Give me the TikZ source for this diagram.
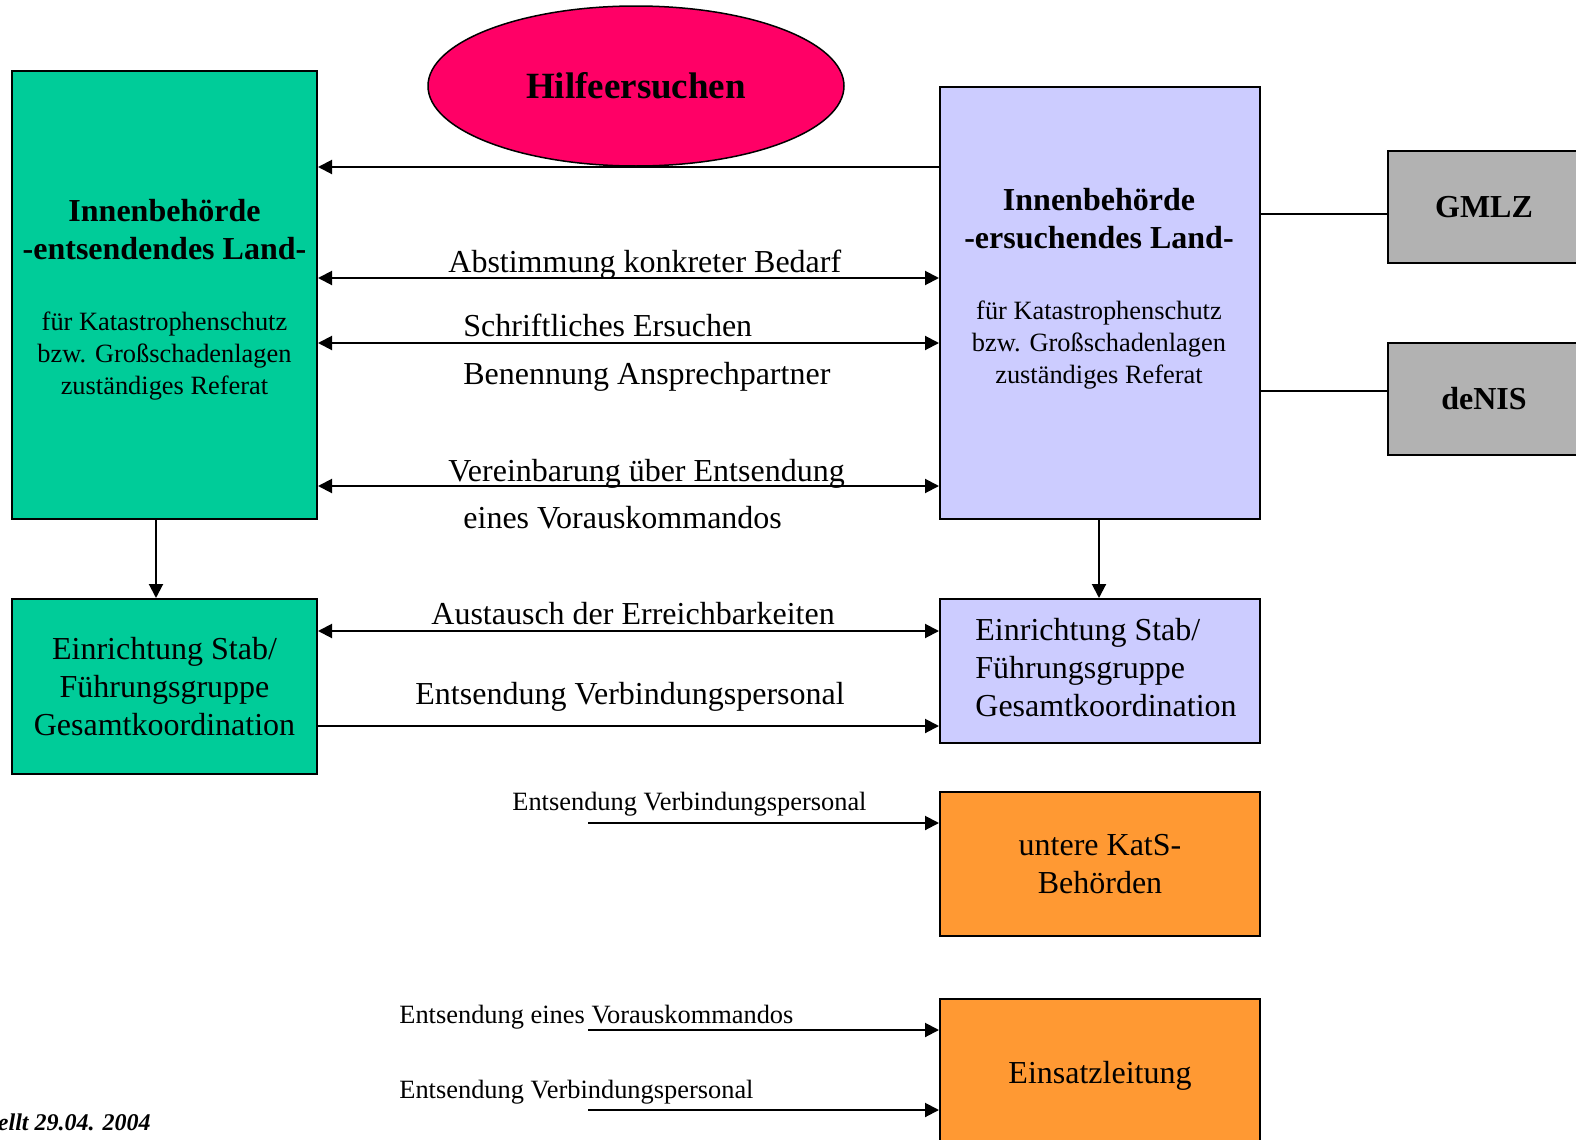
\documentclass[tikz,border=0pt]{standalone}
\usepackage{fontspec}
\setmainfont{Liberation Serif}
\usetikzlibrary{arrows.meta,shapes.geometric}
\definecolor{cgreen}{HTML}{00CC99}
\definecolor{cpink}{HTML}{FF0066}
\definecolor{clav}{HTML}{CCCCFF}
\definecolor{cgray}{HTML}{B2B2B2}
\definecolor{corange}{HTML}{FF9933}
\begin{document}
\begin{tikzpicture}[x=0.5pt,y=-0.5pt,
  box/.style={draw, line width=1pt, rectangle, inner sep=0pt, align=center, font=\fontsize{16}{19}\selectfont},
  hdr/.style={inner sep=0pt, align=center, font=\fontsize{16}{19}\selectfont\bfseries},
  body/.style={inner sep=0pt, align=center, font=\fontsize{13.2}{16}\selectfont},
  lbl/.style={anchor=base west, inner sep=0pt, font=\fontsize{16}{19}\selectfont},
  slbl/.style={anchor=base west, inner sep=0pt, font=\fontsize{13.2}{16}\selectfont},
  arr/.style={line width=1pt, -{Triangle[length=7pt,width=7pt]}},
  darr/.style={line width=1pt, {Triangle[length=7pt,width=7pt]}-{Triangle[length=7pt,width=7pt]}},
  conn/.style={line width=1pt}]
\useasboundingbox (0,0) rectangle (1576,1140);
\clip (0,0) rectangle (1576,1140);

% top boxes
\node[box, fill=cgreen, minimum width=152.5pt, minimum height=224pt] (entA) at (164.5,295) {};
\node[hdr] (entAh) at (164.5,230) {Innenbehörde\\-entsendendes Land-};
\node[body] (entAb) at (164.5,356) {für Katastrophenschutz\\bzw. Großschadenlagen\\zuständiges Referat};

\node[box, fill=clav, minimum width=160pt, minimum height=216pt] (ersB) at (1100,303) {};
\node[hdr] (ersBh) at (1099,219) {Innenbehörde\\-ersuchendes Land-};
\node[body] (ersBb) at (1099,345) {für Katastrophenschutz\\bzw. Großschadenlagen\\zuständiges Referat};

\node[box, fill=cgray, minimum width=96pt, minimum height=56pt, font=\fontsize{16}{19}\selectfont\bfseries] (gmlz) at (1484,207) {GMLZ};
\node[box, fill=cgray, minimum width=96pt, minimum height=56pt, font=\fontsize{16}{19}\selectfont\bfseries] (denis) at (1484,399) {deNIS};

% lower boxes
\node[box, fill=cgreen, minimum width=152.5pt, minimum height=87.5pt] (entAst) at (164.5,686.5) {Einrichtung Stab/\\Führungsgruppe\\Gesamtkoordination};
\node[box, fill=clav, minimum width=160pt, minimum height=72pt] (ersBst) at (1100,671) {};
\node[inner sep=0pt, anchor=west, align=left, font=\fontsize{16}{19}\selectfont] (ersBsttxt) at (975,668) {Einrichtung Stab/\\Führungsgruppe\\Gesamtkoordination};
\node[box, fill=corange, minimum width=160pt, minimum height=72pt] (kats) at (1100,864) {untere KatS-\\Behörden};
\node[box, fill=corange, minimum width=160pt, minimum height=77pt] (einsatz) at (1100,1076) {Einsatzleitung};

% connectors
\draw[arr] (ersB.west |- 0,167) -- (entA.east |- 0,167);
\node[draw, ellipse, fill=cpink, line width=0.75pt, minimum width=208pt, minimum height=80pt, inner sep=0pt, font=\fontsize{18.5}{22}\selectfont\bfseries] (hilfe) at (636,86) {\raisebox{-1pt}{Hilfeersuchen}};
\draw[darr] (entA.east |- 0,278) -- (ersB.west |- 0,278);
\draw[darr] (entA.east |- 0,343) -- (ersB.west |- 0,343);
\draw[darr] (entA.east |- 0,486) -- (ersB.west |- 0,486);
\draw[conn] (ersB.east |- 0,214) -- (gmlz.west |- 0,214);
\draw[conn] (ersB.east |- 0,391) -- (denis.west |- 0,391);
\draw[arr] (entA.south -| 156,0) -- (entAst.north -| 156,0);
\draw[arr] (ersB.south -| 1099,0) -- (ersBst.north -| 1099,0);
\draw[darr] (entAst.east |- 0,631) -- (ersBst.west |- 0,631);
\draw[arr] (entAst.east |- 0,726) -- (ersBst.west |- 0,726);
\coordinate (s1) at (588,823);
\coordinate (s2) at (588,1030);
\coordinate (s3) at (588,1110);
\draw[arr] (s1) -- (kats.west |- s1);
\draw[arr] (s2) -- (einsatz.west |- s2);
\draw[arr] (s3) -- (einsatz.west |- s3);

% labels
\node[lbl] (l1) at (448,272) {Abstimmung konkreter Bedarf};
\node[lbl] (l2) at (463,336) {Schriftliches Ersuchen};
\node[lbl] (l3) at (463,384) {Benennung Ansprechpartner};
\node[lbl] (l4) at (448,481) {Vereinbarung über Entsendung};
\node[lbl] (l5) at (463,528) {eines Vorauskommandos};
\node[lbl] (l6) at (431,624) {Austausch der Erreichbarkeiten};
\node[lbl] (l7) at (415,704) {Entsendung Verbindungspersonal};
\node[slbl] (l8) at (512,810) {Entsendung Verbindungspersonal};
\node[slbl] (l9) at (399,1023) {Entsendung eines Vorauskommandos};
\node[slbl] (l10) at (399,1098) {Entsendung Verbindungspersonal};
\node[anchor=base east, inner sep=0pt, font=\fontsize{12}{14}\selectfont\bfseries\itshape] (date) at (151,1130) {ellt 29.04. 2004};
\end{tikzpicture}
\end{document}
